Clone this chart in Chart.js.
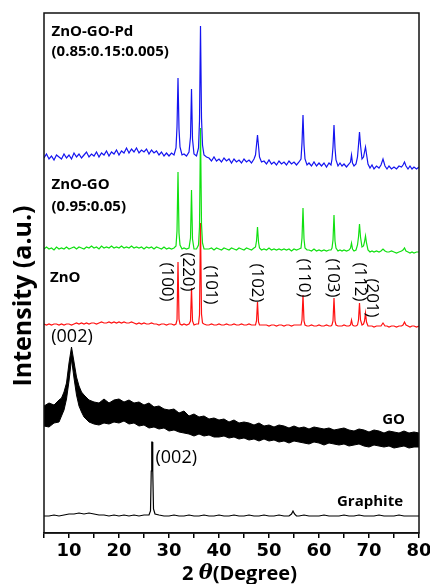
<!DOCTYPE html>
<html>
<head>
<meta charset="utf-8">
<script src="https://cdn.jsdelivr.net/npm/chart.js@4.4.1/dist/chart.umd.min.js"></script>
<style>
  html, body { margin: 0; padding: 0; background: #fff; }
  #wrap { width: 430px; height: 584px; }
</style>
</head>
<body>
<div id="wrap"><canvas id="Chart"></canvas></div>
<script>
// 2-theta grid shared by the three ZnO based patterns
const twoTheta = [
  5, 5.5, 6, 6.5, 7, 7.5, 8, 8.5, 9, 9.5, 10, 10.5, 11, 11.5, 12, 12.5, 13, 13.5, 14, 14.5,
  15, 15.5, 16, 16.5, 17, 17.5, 18, 18.5, 19, 19.5, 20, 20.5, 21, 21.5, 22, 22.5, 23, 23.5,
  24, 24.5, 25, 25.5, 26, 26.5, 27, 27.5, 28, 28.5, 29, 29.5, 30, 30.5, 31,
  31.4, 31.6, 31.8, 32.0, 32.2, 32.6, 33.0, 33.5, 34.0, 34.3, 34.5, 34.7, 35.0, 35.5, 35.9,
  36.1, 36.3, 36.5, 36.7, 37.0, 37.5,
  38, 38.5, 39, 39.5, 40, 40.5, 41, 41.5, 42, 42.5, 43, 43.5, 44, 44.5, 45, 45.5, 46, 46.5, 47,
  47.3, 47.5, 47.7, 47.9, 48.1, 48.5,
  49, 49.5, 50, 50.5, 51, 51.5, 52, 52.5, 53, 53.5, 54, 54.5, 55, 55.5, 56,
  56.4, 56.6, 56.8, 57.0, 57.2, 57.6,
  58, 58.5, 59, 59.5, 60, 60.5, 61, 61.5, 62, 62.4,
  62.6, 62.8, 63.0, 63.2, 63.4, 63.8,
  64.2, 64.6, 65, 65.5, 66, 66.3, 66.5, 66.7, 67.0, 67.4, 67.7, 67.9, 68.1, 68.3, 68.6, 68.9,
  69.1, 69.3, 69.5, 69.8, 70.2, 70.6, 71, 71.5, 72, 72.4, 72.8, 73.2, 73.6, 74, 74.5, 75,
  75.5, 76, 76.5, 76.8, 77.1, 77.4, 77.8, 78.2, 78.6, 79, 79.5, 80
];

const znoGoPd = [
  375, 379, 374, 377, 373, 378, 376, 374, 379, 375, 378, 374, 380, 376, 379, 375, 378, 381, 376, 379,
  377, 381, 376, 380, 378, 382, 377, 381, 379, 383, 378, 382, 380, 385, 380, 384, 381, 385,
  380, 383, 381, 384, 379, 383, 380, 382, 378, 381, 377, 380, 377, 380, 378,
  385, 406, 455, 404, 386, 378, 379, 377, 381, 396, 444, 394, 379, 377, 385,
  412, 507, 415, 388, 378, 376,
  375, 372, 376, 372, 374, 371, 375, 372, 374, 370, 374, 371, 373, 370, 374, 371, 373, 370, 374,
  378, 388, 398, 387, 376, 371,
  372, 369, 373, 369, 371, 368, 372, 369, 371, 368, 372, 369, 371, 368, 371,
  374, 390, 418, 388, 374, 368,
  370, 367, 371, 367, 370, 367, 370, 366, 370, 368,
  374, 386, 408, 385, 373, 367,
  370, 367, 369, 366, 369, 371, 378, 370, 367, 369, 376, 388, 401, 388, 374, 376,
  381, 386, 379, 369, 365, 368, 364, 367, 365, 368, 374, 367, 364, 367, 364, 366,
  364, 367, 366, 368, 371, 367, 364, 367, 364, 366, 364, 366
];

const znoGo = [
  284, 286, 284, 285, 283, 286, 284, 285, 284, 286, 284, 285, 286, 284, 286, 285, 284, 286, 285, 287,
  285, 286, 284, 287, 285, 286, 285, 287, 285, 286, 285, 287, 285, 286, 285, 287, 285, 286,
  285, 286, 284, 286, 285, 286, 284, 286, 285, 284, 286, 284, 285, 284, 285,
  287, 302, 361, 300, 288, 284, 285, 284, 285, 295, 343, 294, 284, 284, 288,
  306, 405, 309, 290, 284, 284,
  284, 285, 283, 285, 284, 283, 285, 284, 283, 285, 284, 283, 285, 284, 283, 285, 284, 283, 285,
  286, 292, 306, 291, 285, 283,
  284, 283, 285, 283, 284, 283, 284, 283, 284, 283, 284, 282, 284, 283, 284,
  285, 295, 325, 294, 285, 283,
  283, 282, 284, 282, 283, 282, 283, 282, 283, 283,
  285, 293, 318, 292, 285, 282,
  283, 282, 283, 282, 283, 285, 290, 284, 282, 283, 288, 296, 309, 296, 286, 287,
  291, 297, 290, 283, 281, 282, 281, 282, 281, 282, 284, 282, 281, 281, 282, 281,
  280, 281, 282, 283, 285, 282, 281, 280, 281, 280, 281, 281
];

const zno = [
  209, 208, 209, 208, 209, 209, 208, 209, 208, 209, 209, 208, 209, 210, 209, 210, 209, 210, 209, 210,
  210, 209, 210, 211, 210, 210, 211, 210, 211, 210, 211, 210, 211, 210, 210, 211, 210, 209,
  210, 209, 210, 209, 209, 210, 209, 209, 208, 209, 209, 208, 209, 209, 208,
  209, 213, 271, 214, 209, 208, 209, 208, 209, 212, 245, 212, 208, 209, 209,
  218, 310, 219, 210, 209, 208,
  208, 209, 208, 208, 209, 208, 208, 209, 208, 208, 209, 208, 208, 209, 208, 208, 209, 208, 208,
  208, 212, 231, 211, 208, 208,
  208, 208, 207, 208, 208, 207, 208, 208, 207, 208, 208, 207, 208, 208, 208,
  208, 213, 238, 212, 208, 207,
  207, 208, 207, 207, 208, 207, 207, 208, 207, 207,
  208, 212, 235, 212, 208, 207,
  207, 207, 208, 207, 207, 208, 213, 208, 207, 207, 208, 213, 230, 213, 208, 209,
  212, 220, 211, 207, 207, 207, 206, 207, 207, 207, 210, 207, 207, 206, 207, 207,
  206, 207, 207, 208, 211, 208, 207, 206, 207, 207, 206, 207
];

// graphene oxide: noisy trace, kept as top and bottom of the noise band
const goTheta = [
  5, 6, 7, 8, 8.5, 9, 9.5, 10, 10.5, 11, 11.5, 12, 12.5, 13,
  14, 15, 16, 17, 18, 19, 20, 21, 22, 23, 24, 25, 26, 27, 28, 29, 30, 31, 32, 33, 34, 35, 36, 37,
  38, 39, 40, 41, 42, 43, 44, 45, 46, 47, 48, 49, 50, 51, 52, 53, 54, 55, 56, 57, 58, 59, 60, 61,
  62, 63, 64, 65, 66, 67, 68, 69, 70, 71, 72, 73, 74, 75, 76, 77, 78, 79, 80
];
const goUpper = [
  127, 130, 128, 133, 135, 141, 150, 170, 186, 171, 156, 147, 141, 138,
  133, 131, 130, 134, 130, 133, 134, 131, 133, 130, 131, 128, 130, 126, 127, 124, 123, 124, 120, 122, 117, 119, 116, 117,
  114, 115, 113, 114, 111, 113, 110, 111, 110, 108, 110, 107, 108, 106, 108, 107, 105, 107, 105, 106, 104, 106, 105, 104,
  105, 103, 104, 105, 103, 102, 104, 103, 101, 103, 102, 100, 102, 101, 100, 102, 100, 101, 100
];
const goLower = [
  107, 106, 110, 111, 117, 123, 134, 152, 174, 155, 138, 127, 121, 116,
  111, 109, 108, 110, 109, 111, 110, 112, 109, 110, 107, 108, 105, 106, 104, 105, 102, 103, 101, 100, 99, 97, 99, 97,
  98, 96, 96, 97, 95, 96, 94, 95, 93, 94, 92, 94, 92, 93, 91, 92, 90, 92, 91, 90, 89, 91, 90, 88,
  90, 89, 88, 89, 87, 88, 89, 87, 86, 88, 87, 86, 87, 85, 86, 87, 85, 86, 86
];

const graphiteTheta = [
  5, 6, 7, 8, 9, 10, 11, 12, 13, 14, 15, 16, 17, 18, 19, 20, 21, 22, 23, 24, 25, 26,
  26.3, 26.45, 26.55, 26.65, 26.75, 26.9, 27.2,
  28, 29, 30, 31, 32, 33, 34, 35, 36, 37, 38, 39, 40, 41, 42, 43, 44, 45, 46, 47, 48, 49, 50,
  51, 52, 53, 54, 54.5, 54.8, 55.1, 55.5,
  56, 57, 58, 59, 60, 61, 62, 63, 64, 65, 66, 67, 68, 69, 70, 71, 72, 73, 74, 75, 76, 77, 78, 79, 80
];
const graphite = [
  17, 17, 18, 17, 18, 19, 19, 20, 19, 20, 19, 18, 18, 17, 18, 17, 18, 17, 18, 17, 18, 18,
  22, 62, 91, 91, 62, 24, 19,
  18, 17, 17, 18, 17, 17, 18, 17, 17, 18, 17, 17, 18, 17, 17, 18, 17, 17, 18, 17, 17, 18, 17,
  17, 18, 17, 17, 19, 22, 19, 17,
  17, 18, 17, 17, 17, 18, 17, 17, 17, 18, 17, 17, 18, 17, 17, 17, 18, 17, 17, 17, 18, 17, 17, 17, 17
];

const majorTicks = [10, 20, 30, 40, 50, 60, 70, 80];

// sample names and reflection indices, placed in data coordinates
const notes = [
  { text: 'ZnO-GO-Pd', x: 6.5, y: 501, font: 'bold 15px "Open Sans"' },
  { text: '(0.85:0.15:0.005)', x: 6.5, y: 481, font: 'bold 15px "Open Sans"' },
  { text: 'ZnO-GO', x: 6.5, y: 348, font: 'bold 15px "Open Sans"' },
  { text: '(0.95:0.05)', x: 6.5, y: 326, font: 'bold 15px "Open Sans"' },
  { text: 'ZnO', x: 6.2, y: 255, font: 'bold 15px "Open Sans"' },
  { text: '(002)', x: 10.6, y: 196, font: '18px "Open Sans"', align: 'center' },
  { text: 'GO', x: 77.2, y: 113, font: 'bold 15px "Open Sans"', align: 'right' },
  { text: '(002)', x: 27.3, y: 75, font: '18px "Open Sans"' },
  { text: 'Graphite', x: 76.8, y: 31, font: 'bold 15px "Open Sans"', align: 'right' }
];
const hkl = [
  { text: '(100)', x: 29.6, y: 251 },
  { text: '(220)', x: 33.8, y: 261 },
  { text: '(101)', x: 38.3, y: 248 },
  { text: '(102)', x: 47.6, y: 250 },
  { text: '(110)', x: 57.0, y: 255 },
  { text: '(103)', x: 62.7, y: 255 },
  { text: '(112)', x: 68.1, y: 251 },
  { text: '(201)', x: 70.6, y: 235 }
];

const pts = (xs, ys) => xs.map((x, i) => ({ x: x, y: ys[i] }));

const line = (values, color, width) => ({
  data: values,
  borderColor: color,
  borderWidth: width,
  pointRadius: 0,
  fill: false,
  tension: 0
});

const goTop = line(pts(goTheta, goUpper), '#000', 1);
goTop.fill = '+1';
goTop.backgroundColor = '#000';

const textPlugin = {
  id: 'texts',
  afterDatasetsDraw(chart) {
    const { ctx, scales: { x, y }, chartArea: a } = chart;
    ctx.save();
    ctx.fillStyle = '#000';
    ctx.textBaseline = 'middle';
    notes.forEach(n => {
      ctx.font = n.font;
      ctx.textAlign = n.align || 'left';
      ctx.fillText(n.text, x.getPixelForValue(n.x), y.getPixelForValue(n.y));
    });
    ctx.font = '17px "Open Sans"';
    ctx.textAlign = 'center';
    hkl.forEach(n => {
      ctx.save();
      ctx.translate(x.getPixelForValue(n.x), y.getPixelForValue(n.y));
      ctx.rotate(Math.PI / 2);
      ctx.fillText(n.text, 0, 0);
      ctx.restore();
    });

    // frame round the plot
    ctx.strokeStyle = '#111';
    ctx.lineWidth = 1.5;
    ctx.strokeRect(a.left, a.top, a.right - a.left, a.bottom - a.top);

    // axis titles
    ctx.save();
    ctx.translate(24, 296);
    ctx.rotate(-Math.PI / 2);
    ctx.font = 'bold 25px "Open Sans"';
    ctx.textAlign = 'center';
    ctx.fillText('Intensity (a.u.)', 0, 0);
    ctx.restore();

    const parts = [
      ['2 ', 'bold 20px "Open Sans"'],
      ['\u03b8', 'italic bold 21px "DejaVu Serif"'],
      ['(Degree)', 'bold 20px "Open Sans"']
    ];
    let total = 0;
    parts.forEach(p => { ctx.font = p[1]; total += ctx.measureText(p[0]).width; });
    let px = (a.left + a.right) / 2 + 8 - total / 2;
    ctx.textAlign = 'left';
    parts.forEach(p => {
      ctx.font = p[1];
      ctx.fillText(p[0], px, 574);
      px += ctx.measureText(p[0]).width;
    });
    ctx.restore();
  }
};

const config = {
  type: 'line',
  data: {
    datasets: [
      line(pts(twoTheta, znoGoPd), '#1414f0', 1.2),
      line(pts(twoTheta, znoGo), '#10e010', 1.2),
      line(pts(twoTheta, zno), '#ff1010', 1.2),
      goTop,
      line(pts(goTheta, goLower), '#000', 1),
      line(pts(graphiteTheta, graphite), '#000', 1.2)
    ]
  },
  options: {
    responsive: true,
    maintainAspectRatio: false,
    animation: false,
    layout: { padding: { left: 44, right: 11, top: 13, bottom: 0 } },
    plugins: { legend: { display: false }, tooltip: { enabled: false } },
    scales: {
      x: {
        type: 'linear',
        min: 5,
        max: 80,
        ticks: {
          stepSize: 5,
          autoSkip: false,
          maxRotation: 0,
          padding: 3,
          color: '#000',
          font: { family: 'DejaVu Sans', weight: 'bold', size: 18 },
          callback: v => majorTicks.includes(v) ? String(v) : ''
        },
        grid: { drawOnChartArea: false, drawTicks: true, tickLength: 5, color: '#000', lineWidth: 1.5 },
        border: { color: '#111', width: 1.5 },
        afterFit(s) { s.height = 51; s.paddingLeft = 0; s.paddingRight = 0; }
      },
      y: { display: false, min: 0, max: 520 }
    }
  },
  plugins: [textPlugin]
};

const myChart = new Chart(document.getElementById('Chart'), config);
</script>
</body>
</html>
